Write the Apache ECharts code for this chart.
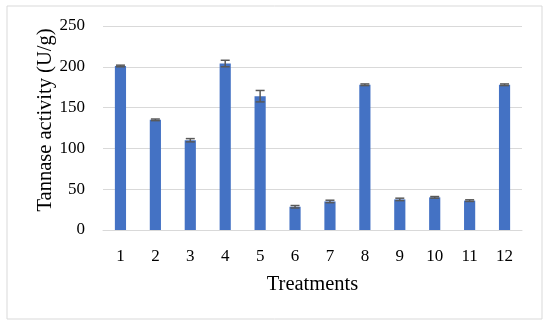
<!DOCTYPE html>
<html><head><meta charset="utf-8">
<script src="https://cdn.jsdelivr.net/npm/echarts@6/dist/echarts.min.js"></script>
<style>html,body{margin:0;padding:0;background:#fff}#c{width:550px;height:325px}</style>
</head><body><div id="c"></div>
<script>
const categories = ['1','2','3','4','5','6','7','8','9','10','11','12'];
const activity = [201, 135, 110, 204, 164, 28.5, 35, 178, 37.5, 40, 36, 178];
const errors = [1, 1, 2, 4, 7, 1.5, 1.5, 1, 1.5, 1, 1, 1];
const yTicks = [0, 50, 100, 150, 200, 250];

const font = '"Liberation Serif", "DejaVu Serif", serif';
const chart = echarts.init(document.getElementById('c'), null, {renderer: 'canvas'});
chart.setOption({
  animation: false,
  graphic: [{
    type: 'rect', shape: {x: 7, y: 6, width: 535, height: 313},
    style: {fill: 'none', stroke: '#d9d9d9', lineWidth: 1}, silent: true
  }],
  grid: {left: 103, right: 28, top: 26, bottom: 95},
  xAxis: {
    type: 'category', data: categories,
    name: 'Treatments', nameLocation: 'middle', nameGap: 44,
    nameTextStyle: {fontFamily: font, fontSize: 20.5, color: '#000'},
    axisLine: {lineStyle: {color: '#d9d9d9'}},
    axisTick: {show: false},
    axisLabel: {fontFamily: font, fontSize: 17, color: '#000', margin: 18}
  },
  yAxis: {
    type: 'value', min: 0, max: 250, interval: 50,
    name: 'Tannase activity (U/g)', nameLocation: 'middle', nameGap: 47,
    nameMoveOverlap: false,
    nameTextStyle: {fontFamily: font, fontSize: 20.5, color: '#000', padding: [0, 0, 0, 16]},
    axisLine: {show: false}, axisTick: {show: false},
    splitLine: {lineStyle: {color: '#d9d9d9'}},
    axisLabel: {fontFamily: font, fontSize: 17, color: '#000', margin: 18,
      formatter: v => yTicks.includes(v) ? String(v) : ''}
  },
  series: [{
    type: 'bar', data: activity, barWidth: '32%',
    itemStyle: {color: '#4472C4'}
  }, {
    type: 'custom',
    data: activity.map((v, i) => [i, v - errors[i], v + errors[i]]),
    renderItem: function (params, api) {
      const x = api.value(0);
      const lo = api.coord([x, api.value(1)]);
      const hi = api.coord([x, api.value(2)]);
      const hw = 4.5;
      const st = {stroke: '#595959', lineWidth: 1.5};
      return {type: 'group', children: [
        {type: 'line', shape: {x1: lo[0], y1: lo[1], x2: hi[0], y2: hi[1]}, style: st},
        {type: 'line', shape: {x1: lo[0]-hw, y1: lo[1], x2: lo[0]+hw, y2: lo[1]}, style: st},
        {type: 'line', shape: {x1: hi[0]-hw, y1: hi[1], x2: hi[0]+hw, y2: hi[1]}, style: st}
      ]};
    },
    z: 5
  }]
});
</script></body></html>
